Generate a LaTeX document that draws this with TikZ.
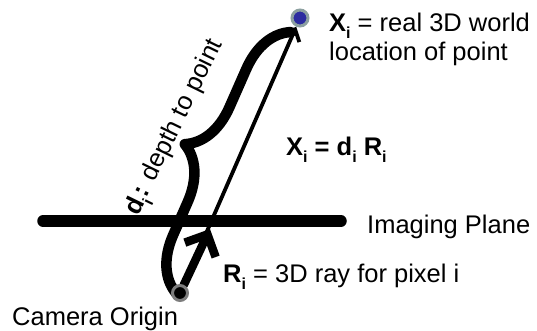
\documentclass[tikz,border=0pt]{standalone}
\usepackage{fontspec}
\setmainfont{Liberation Sans}
\usetikzlibrary{arrows.meta,decorations.pathreplacing}
\pgfdeclarelayer{bg}
\pgfsetlayers{bg,main}
\definecolor{wblue}{RGB}{44,44,160}
\definecolor{wgray}{RGB}{140,160,160}
\definecolor{ogray}{RGB}{125,125,125}
\newcommand\sbi[1]{\raisebox{-0.3em}{\fontsize{16}{16}\selectfont #1}}
\begin{document}
\begin{tikzpicture}[x=1pt,y=-1pt,
  lbl/.style={font=\fontsize{25.5}{30}\selectfont, inner sep=0pt, anchor=base west},
  dotw/.style={circle, fill=wblue, draw=wgray, line width=3pt, minimum size=16pt, inner sep=0pt},
  doto/.style={circle, fill=black, draw=ogray, line width=3pt, minimum size=15pt, inner sep=0pt},
  thinray/.style={line width=3.8pt, -{Straight Barb[length=10pt,width=18pt]}},
  thickray/.style={line width=8.5pt, line cap=round, -{Straight Barb[length=17pt,width=34pt]}},
  plane/.style={line width=11.5pt, line cap=round},
  bracestyle/.style={line width=10.5pt, line cap=round, line join=round, decorate,
    decoration={brace, amplitude=52pt, aspect=0.49}}
]
\useasboundingbox (0,0) rectangle (537,330);
\node[dotw] (W) at (300,18) {};
\node[doto] (O) at (180,293) {};
\coordinate (Rt) at (210,229);
\coordinate (pl) at (43,221);
\coordinate (pr) at (341,221);
\coordinate (bs) at (176,293);
\coordinate (be) at (291,32);
\begin{pgfonlayer}{bg}
\draw[plane] (pl) -- (pr);
\draw[bracestyle] (bs) -- (be);
\draw[thinray] (O) -- (W);
\draw[thickray] (O) -- (Rt);
\end{pgfonlayer}
\node[lbl] (xw) at (329,31) {\textbf{X\sbi{i}} = real 3D world};
\node[lbl] (lp) at (329,60) {location of point};
\node[lbl] (eq) at (286,155) {\bfseries X\sbi{i} = d\sbi{i} R\sbi{i}};
\node[lbl] (ip) at (367,233) {Imaging Plane};
\node[lbl] (rl) at (223,282) {\textbf{R\sbi{i}} = 3D ray for pixel i};
\node[lbl] (co) at (12,325) {Camera Origin};
\node[lbl, rotate=64] (dl) at (138,217) {\textbf{d\sbi{i}:} depth to point};
\end{tikzpicture}
\end{document}
